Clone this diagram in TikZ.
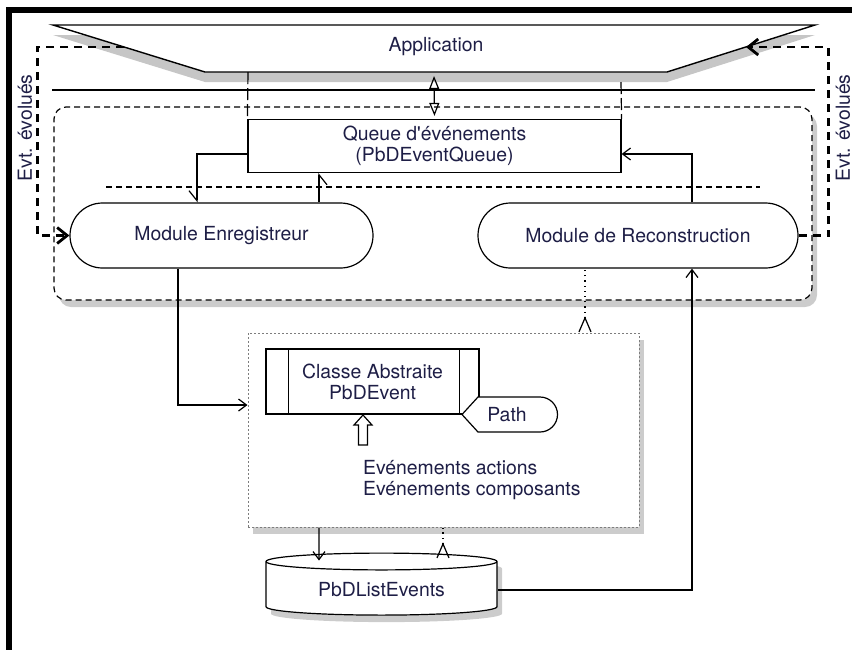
\documentclass[tikz,border=0pt]{standalone}
\usepackage{fontspec}
\setmainfont{TeX Gyre Heros}
\usepackage{tikz}
\usetikzlibrary{arrows.meta,calc,positioning,shapes.geometric,shapes.misc,shadows}
\definecolor{evtext}{RGB}{30,30,70}
\definecolor{evdots}{RGB}{125,125,125}

\begin{document}
\begin{tikzpicture}[x=0.5pt,y=-0.5pt,>={Straight Barb[length=4pt,width=6pt]},
    font=\fontsize{9.7}{10.5}\selectfont,every node/.style={align=center,text=evtext},
    conn/.style={line width=0.6pt},
    softshadow/.style={drop shadow={opacity=0.4,shadow xshift=2.5pt,shadow yshift=-3.5pt}},
    corebox/.style={draw,conn,dash pattern=on 3pt off 2pt,rounded corners=6pt,fill=white,softshadow},
    subbox/.style={draw=evdots,line width=0.5pt,dash pattern=on 1pt off 1pt,fill=white,softshadow},
    modbox/.style={draw,conn,rounded rectangle,fill=white,minimum height=32.5pt,inner sep=0pt},
    evtline/.style={line width=1.4pt,dash pattern=on 4pt off 3pt,-{Straight Barb[length=5pt,width=8pt]}},
    harpd/.style={-{Straight Barb[harpoon,swap,length=5pt,width=8pt]}},
    harpu/.style={-{Straight Barb[harpoon,swap,length=5pt,width=8pt]}},
    backtip/.style={{Straight Barb[reversed,length=7pt,width=6pt]}-}]
  \useasboundingbox (0,0) rectangle (852,650);
  % frame
  \fill[black] (6,7) rectangle (852,12.5);
  \fill[black] (6,7) rectangle (12,650);
  % application
  \node[corebox,minimum width=379pt,minimum height=96.5pt] (core) at (433,203.5) {};
  \filldraw[conn,fill=white,line width=0.7pt,drop shadow={opacity=0.45,shadow xshift=0pt,shadow yshift=-5pt}]
    (53,25) -- (815,25) -- (667,72) -- (205,72) -- cycle;
  \node (app) at (436,47) {Application};
  \coordinate (appL) at (124,47);
  \coordinate (appR) at (746,47);
  \coordinate (appB) at (434,72);
  \draw[conn] (52,90) -- (815,90);
  % queue
  \node[draw,conn,fill=white,minimum width=186.5pt,minimum height=24pt] (queue) at (434.5,146)
    {Queue d\textquotesingle événements\\(PbDEventQueue)};
  \draw[conn,dash pattern=on 6pt off 2pt] (248,72) -- (queue.north west);
  \draw[conn,dash pattern=on 6pt off 2pt] (621,82) -- (queue.north east);
  \draw[conn,{Triangle[open,length=6.5pt,width=5pt]}-{Triangle[open,length=6.5pt,width=5pt]},shorten <=2pt,shorten >=1.5pt]
    (appB) -- (queue.north);
  \draw[conn,dash pattern=on 3pt off 2pt] (106,187) -- (760,187);
  % modules
  \node[modbox,minimum width=151.5pt] (enr) at (221.5,235.5) {Module Enregistreur};
  \node[modbox,minimum width=160pt] (rec) at (638,235.5) {Module de Reconstruction};
  \draw[conn,harpd] ([yshift=-4pt]queue.west) -| ([xshift=-12.25pt]enr.north);
  \draw[conn,harpu] ([xshift=48.75pt]enr.north) -- ([xshift=48.75pt]enr.north |- queue.south);
  \draw[conn,->] ([xshift=27pt]rec.north) |- ([yshift=-4pt]queue.east);
  % evolved events
  \draw[evtline] (appL) -| ([xshift=-16pt]enr.west) -- (enr.west);
  \draw[evtline] (rec.east) -- ([xshift=15pt]rec.east) |- (appR);
  \node[rotate=90] (evtL) at (25,128) {Evt. évolués};
  \node[rotate=90] (evtR) at (843,128) {Evt. évolués};
  % events
  \node[subbox,minimum width=195.5pt,minimum height=97pt] (cont) at (443.5,430) {};
  \node[draw,conn,fill=white,minimum width=106.5pt,minimum height=32.5pt] (cls) at (372.5,381.5)
    {Classe Abstraite\\PbDEvent};
  \draw[conn] ([xshift=11.5pt]cls.north west) -- ([xshift=11.5pt]cls.south west);
  \draw[conn] ([xshift=-10pt]cls.north east) -- ([xshift=-10pt]cls.south east);
  \filldraw[conn,fill=white] (478,397) -- (540,397) arc[start angle=90,end angle=-90,radius=8.75pt]
    -- (478,432) -- (462,414.5) -- cycle;
  \node (pth) at (507,414.5) {Path};
  \filldraw[conn,fill=white] (358.5,445) -- (358.5,425) -- (354,425) -- (363,415)
    -- (372,425) -- (367.5,425) -- (367.5,445) -- cycle;
  \node[anchor=west,align=left] (evts) at (356,480) {Evénements actions\\Evénements composants};
  \draw[conn,->] ([xshift=-21.75pt]enr.south) |- ([yshift=12.5pt]cont.west);
  \draw[conn,dotted,backtip] ([xshift=-26.5pt]rec.south |- cont.north) -- ([xshift=-26.5pt]rec.south);
  % list
  \node[cylinder,shape border rotate=90,aspect=0.12,draw,conn,fill=white,minimum width=115.5pt,
    minimum height=31pt,softshadow] (lst) at (381.5,590) {PbDListEvents};
  \draw[conn,->] ([xshift=-62.25pt]cont.south) -- ([xshift=-31.25pt,yshift=-4pt]lst.north);
  \draw[conn,dotted,backtip] ([xshift=30.75pt,yshift=-3pt]lst.north) -- ([xshift=30.75pt]lst.north |- cont.south);
  \draw[conn,->] (lst.east) -| ([xshift=27pt]rec.south);
\end{tikzpicture}
\end{document}
